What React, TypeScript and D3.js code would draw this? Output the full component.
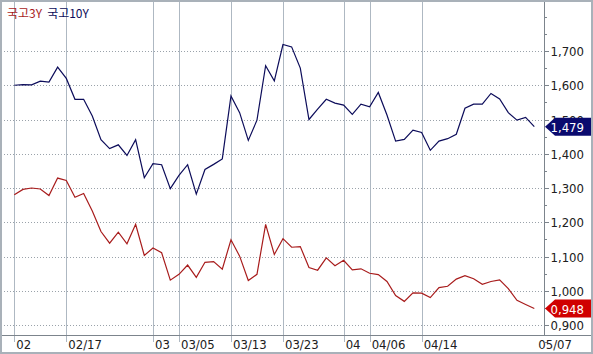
import React from "react";
import * as d3 from "d3";

const series10Y: number[] = [
  1.600, 1.602, 1.601, 1.612, 1.609, 1.653, 1.620, 1.559, 1.559, 1.510,
  1.441, 1.415, 1.426, 1.395, 1.441, 1.330, 1.371, 1.368, 1.298, 1.337,
  1.368, 1.282, 1.354, 1.369, 1.385, 1.569, 1.520, 1.439, 1.498, 1.657,
  1.613, 1.719, 1.712, 1.650, 1.500, 1.530, 1.559, 1.548, 1.542, 1.515,
  1.545, 1.537, 1.579, 1.513, 1.437, 1.442, 1.469, 1.462, 1.410, 1.437,
  1.444, 1.457, 1.533, 1.545, 1.545, 1.576, 1.560, 1.520, 1.498, 1.506,
  1.479,
];

const series3Y: number[] = [
  1.280, 1.296, 1.300, 1.297, 1.278, 1.329, 1.322, 1.273, 1.284, 1.233,
  1.173, 1.139, 1.171, 1.137, 1.194, 1.103, 1.125, 1.111, 1.031, 1.048,
  1.075, 1.039, 1.083, 1.085, 1.063, 1.149, 1.101, 1.030, 1.048, 1.194,
  1.106, 1.152, 1.127, 1.129, 1.068, 1.060, 1.096, 1.073, 1.089, 1.061,
  1.064, 1.051, 1.047, 1.027, 0.986, 0.969, 0.994, 0.993, 0.980, 1.009,
  1.013, 1.034, 1.044, 1.035, 1.019, 1.027, 1.032, 1.006, 0.972, 0.960,
  0.948,
];

const dateTickIdx: number[] = [0, 6, 16, 19, 25, 31, 38, 41, 47];
const dateTickLabels: string[] = ["02", "02/17", "03", "03/05", "03/13", "03/23", "04", "04/06", "04/14"];
const lastDateLabel = "05/07";

const yTicks: number[] = [0.9, 1.0, 1.1, 1.2, 1.3, 1.4, 1.5, 1.6, 1.7];
const minorTicks: number[] = [0.85, 0.95, 1.05, 1.15, 1.25, 1.35, 1.45, 1.55, 1.65, 1.75, 1.8];

const legendNames: string[] = ["국고3Y", "국고10Y"];

const W = 593;
const H = 354;
const AX = 544; // y-axis line x
const AY = 335; // x-axis line y

const C10 = "#0c0c5a";
const C3 = "#a81c1c";
const fmt = (v: number) => v.toFixed(3).replace(".", ",");

export default function App() {
  const x = d3.scaleLinear().domain([0, 60]).range([14.3, 534.3]);
  const y = d3.scaleLinear().domain([0.9, 1.7]).range([325, 51]);
  const line = d3
    .line<number>()
    .x((_, i) => x(i))
    .y((d) => y(d));

  const numFont = "'Liberation Sans Narrow', 'DejaVu Sans Condensed', 'Liberation Sans', sans-serif";
  const last10 = series10Y[series10Y.length - 1];
  const last3 = series3Y[series3Y.length - 1];

  const marker = (v: number, color: string) => {
    const yy = y(v);
    const pts = [
      [545, yy],
      [555, yy - 9],
      [591, yy - 9],
      [591, yy + 9],
      [555, yy + 9],
    ]
      .map((p) => p.join(","))
      .join(" ");
    return (
      <g key={color}>
        <polygon points={pts} fill={color} />
        <text x={584} y={yy + 5} textAnchor="end" fill="#ffffff" fontSize={13} fontFamily={numFont}>
          {fmt(v)}
        </text>
      </g>
    );
  };

  return (
    <svg
      width={W}
      height={H}
      style={{ position: "fixed", left: 0, top: 0, background: "#ffffff" }}
    >
      <rect x={0} y={0} width={W} height={H} fill="#ffffff" />
      {/* horizontal dotted gridlines */}
      {yTicks.map((t) => (
        <line
          key={"g" + t}
          x1={4}
          x2={AX}
          y1={Math.round(y(t)) + 0.5}
          y2={Math.round(y(t)) + 0.5}
          stroke="#9aa2aa"
          strokeDasharray="1,2"
          shapeRendering="crispEdges"
        />
      ))}
      {/* vertical gridlines */}
      {dateTickIdx.map((i) => (
        <line
          key={"v" + i}
          x1={Math.round(x(i)) + 0.5}
          x2={Math.round(x(i)) + 0.5}
          y1={2}
          y2={342}
          stroke="#aeb8c2"
          strokeWidth={1.2}
          shapeRendering="crispEdges"
        />
      ))}
      {/* axes */}
      <line x1={AX + 0.5} x2={AX + 0.5} y1={2} y2={AY} stroke="#7c848c" shapeRendering="crispEdges" />
      <line x1={2} x2={W - 2} y1={AY + 0.5} y2={AY + 0.5} stroke="#7c848c" shapeRendering="crispEdges" />
      {/* y ticks */}
      {yTicks.map((t) => (
        <g key={"t" + t}>
          <line
            x1={AX + 1}
            x2={AX + 5}
            y1={Math.round(y(t)) + 0.5}
            y2={Math.round(y(t)) + 0.5}
            stroke="#7c848c"
            shapeRendering="crispEdges"
          />
          <text x={584} y={y(t) + 5} textAnchor="end" fill="#202020" fontSize={13} fontFamily={numFont}>
            {fmt(t)}
          </text>
        </g>
      ))}
      {minorTicks.map((t) => (
        <line
          key={"m" + t}
          x1={AX + 1}
          x2={AX + 3}
          y1={Math.round(y(t)) + 0.5}
          y2={Math.round(y(t)) + 0.5}
          stroke="#7c848c"
          shapeRendering="crispEdges"
        />
      ))}
      {/* date labels */}
      {dateTickIdx.map((i, k) => (
        <text key={"d" + i} x={x(i) + 2} y={349} fill="#202020" fontSize={13} fontFamily={numFont}>
          {dateTickLabels[k]}
        </text>
      ))}
      <text x={x(60) + 4} y={349} fill="#202020" fontSize={13} fontFamily={numFont}>
        {lastDateLabel}
      </text>
      {/* series */}
      <path d={line(series3Y) || ""} fill="none" stroke={C3} strokeWidth={1.2} />
      <path d={line(series10Y) || ""} fill="none" stroke={C10} strokeWidth={1.2} />
      {/* markers */}
      {marker(last10, "#0a0a6e")}
      {marker(last3, "#d00000")}
      {/* legend */}
      <text x={7} y={18} fontSize={12} fontFamily="'Noto Sans CJK KR', sans-serif">
        <tspan fill={C3}>{legendNames[0]}</tspan>
        <tspan fill={C10} dx={5}>{legendNames[1]}</tspan>
      </text>
      {/* frame */}
      <rect x={1} y={1} width={W - 2} height={H - 2} fill="none" stroke="#a9b1b9" strokeWidth={2} />
    </svg>
  );
}
